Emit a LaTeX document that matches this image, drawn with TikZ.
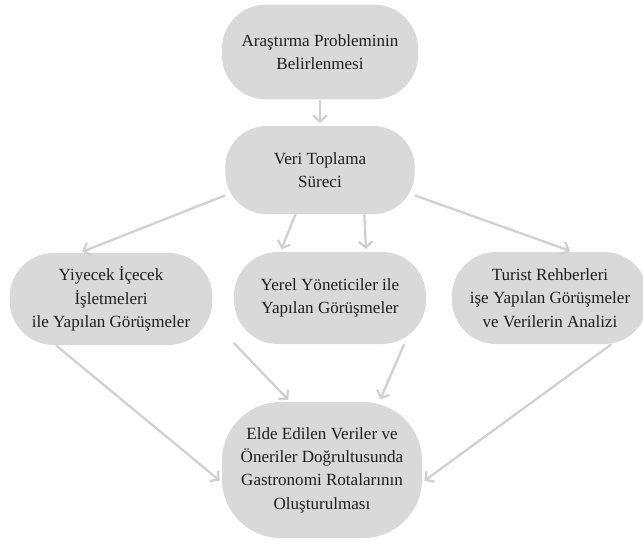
\documentclass[tikz,border=0pt]{standalone}
\usepackage{fontspec}
\setmainfont{Liberation Serif}
\usepackage{tikz}
\definecolor{boxgray}{HTML}{D9D9D9}
\definecolor{linkgray}{HTML}{D0D0D0}
\definecolor{inkgray}{HTML}{1E1E1E}
\usetikzlibrary{positioning, arrows.meta}
\tikzstyle{link} = [line width=1.7pt, draw=linkgray, -{Straight Barb[length=4.5pt,width=10pt,line width=1.7pt]}, shorten >=2pt]

\begin{document}
\begin{tikzpicture}[x=0.75pt, y=-0.75pt]
                \tikzstyle{every node}=[font=\fontsize{12.8}{17.5}\selectfont, text=inkgray]
                \tikzstyle{stage} = [rectangle, rounded corners=33pt, fill=boxgray, draw=none, align=center, inner sep=0pt]

                \useasboundingbox (0,0) rectangle (643,547);

                % stages
                \node[stage, minimum width=147pt, minimum height=71pt](prob) at (320,52) {Araştırma Probleminin\\Belirlenmesi};
                \node[stage, minimum width=142pt, minimum height=66pt, rounded corners=31pt](veri) at (320,170) {Veri Toplama\\Süreci};
                \node[stage, minimum width=152pt, minimum height=69pt](yiyecek) at (111,299) {Yiyecek İçecek\\İşletmeleri\\ile Yapılan Görüşmeler};
                \node[stage, minimum width=144pt, minimum height=69pt](yerel) at (330,298) {Yerel Yöneticiler ile\\Yapılan Görüşmeler};
                \node[stage, minimum width=147pt, minimum height=69pt](turist) at (550,298) {Turist Rehberleri\\işe Yapılan Görüşmeler\\ve Verilerin Analizi};
                \node[stage, minimum width=150pt, minimum height=102pt, rounded corners=44pt](rota) at (322,470) {Elde Edilen Veriler ve\\Öneriler Doğrultusunda\\Gastronomi Rotalarının\\Oluşturulması};

                % links
                \draw[link] (prob) -- (veri);
                \draw[link] (veri.195) -- (yiyecek.124);
                \draw[link] (veri.241) -- (yerel.137);
                \draw[link] (veri.315) -- (yerel.52);
                \draw[link] (veri.345) -- (turist.64);

                \draw[link] (yiyecek.220) -- (rota.187);
                \draw[link] (yerel.205) -- (rota.115);
                \draw[link] (yerel.328) -- (rota.50);
                \draw[link] (turist.323) -- (rota.353);
\end{tikzpicture}
\end{document}
